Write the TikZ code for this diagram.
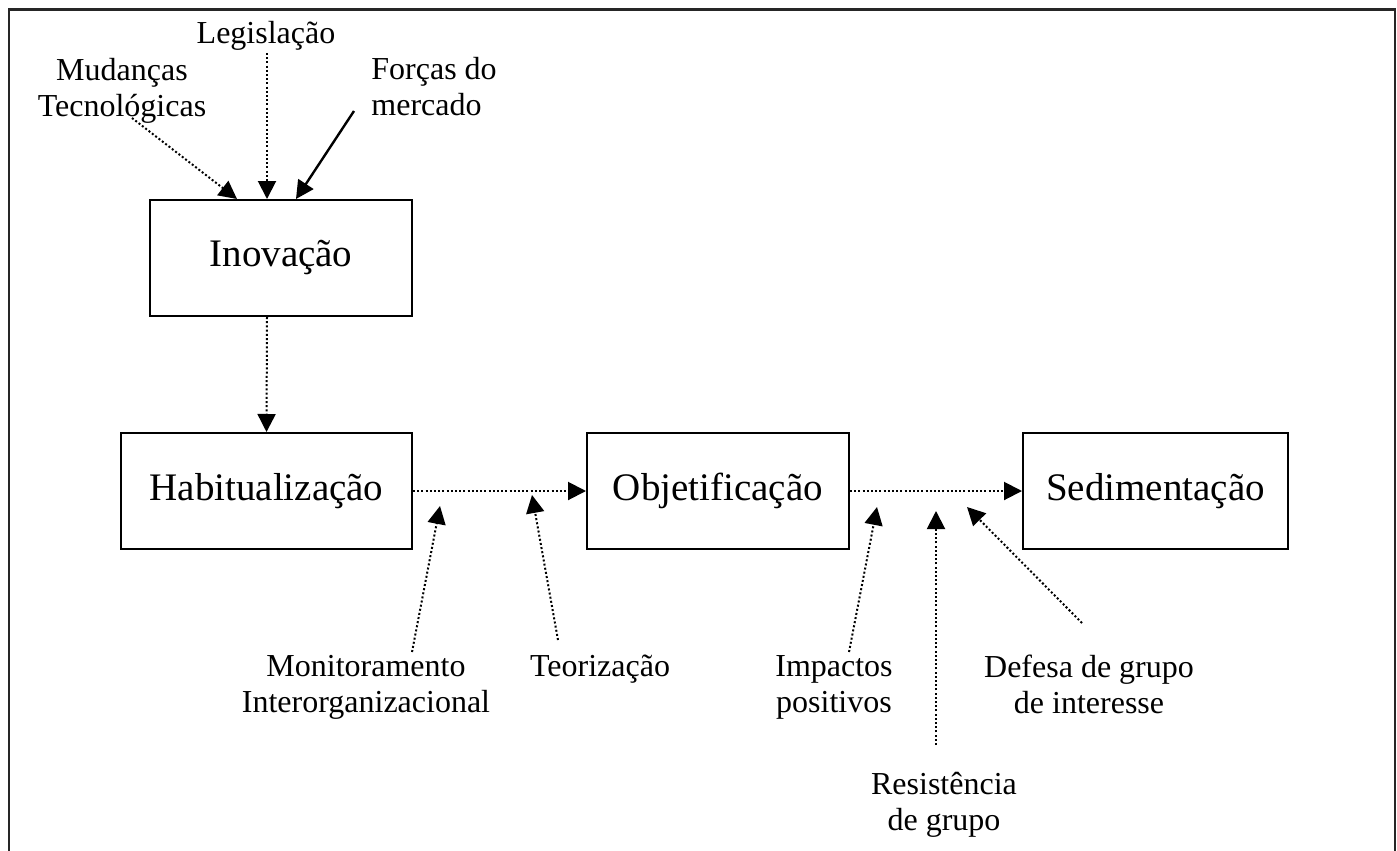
\documentclass[tikz,border=0pt]{standalone}
\usepackage{fontspec}
\setmainfont{Liberation Serif}
\usetikzlibrary{arrows.meta}
\begin{document}
\begin{tikzpicture}[x=0.5pt,y=-0.5pt,
  box/.style={draw, line width=1pt, inner sep=0pt, minimum height=58pt, font=\fontsize{19.5}{23}\selectfont},
  lbl/.style={align=center, inner sep=0pt, font=\fontsize{16}{18}\selectfont},
  lbll/.style={align=left, inner sep=0pt, font=\fontsize{16}{18}\selectfont},
  dotarrow/.style={line width=1pt, dash pattern=on 1pt off 1.1pt, -{Triangle[length=9pt,width=9pt]}},
  solidarrow/.style={line width=1.2pt, -{Triangle[length=9pt,width=9pt]}},
  frame/.style={line width=1.2pt, black!85}
  ]
\useasboundingbox (0,0) rectangle (1397,851);
% outer frame
\draw[frame] (9,851) -- (9,9.5) -- (1395,9.5) -- (1395,851);

% boxes
\node[box, minimum width=131pt]   (ino) at (281,258)    {Inovação};
\node[box, minimum width=145.5pt] (hab) at (266.5,491)  {Habitualização};
\node[box, minimum width=131pt]   (obj) at (718,491)    {Objetificação};
\node[box, minimum width=132.5pt] (sed) at (1155.5,491) {Sedimentação};

% labels
\node[lbl] (leg) at (266,35.5) {Legislação};
\node[lbl] (mud) at (122,90.5) {Mudanças\\Tecnológicas};
\node[lbll, anchor=west] (for) at (371,86.5) {Forças do\\mercado};
\node[lbl] (mon) at (366,687.5) {Monitoramento\\Interorganizacional};
\node[lbl] (teo) at (600,669.5) {Teorização};
\node[lbl] (imp) at (834,687.5) {Impactos\\positivos};
\node[lbl] (res) at (944,804.5) {Resistência\\de grupo};
\node[lbl] (def) at (1089,684) {Defesa de grupo\\de interesse};

% connector ends
\coordinate (mudT) at (132,118);  \coordinate (mudH) at (237,199);
\coordinate (legT) at (267,53);   \coordinate (legH) at (267,199);
\coordinate (forT) at (354,111);  \coordinate (forH) at (296,199);
\coordinate (monT) at (412,652);  \coordinate (monH) at (440,506);
\coordinate (teoT) at (558,640);  \coordinate (teoH) at (532,495);
\coordinate (impT) at (849,652);  \coordinate (impH) at (877,507);
\coordinate (resT) at (936,745);  \coordinate (resH) at (936,511);
\coordinate (defT) at (1082,623); \coordinate (defH) at (967,507);

% connectors
\draw[dotarrow] (mudT) -- (mudH);
\draw[dotarrow] (legT) -- (legH);
\draw[solidarrow] (forT) -- (forH);
\draw[dotarrow] ([xshift=-7pt]ino.south) -- (hab.north);
\draw[dotarrow] (hab.east) -- (obj.west);
\draw[dotarrow] (obj.east) -- (sed.west);
\draw[dotarrow] (monT) -- (monH);
\draw[dotarrow] (teoT) -- (teoH);
\draw[dotarrow] (impT) -- (impH);
\draw[dotarrow] (resT) -- (resH);
\draw[dotarrow] (defT) -- (defH);
\end{tikzpicture}
\end{document}
